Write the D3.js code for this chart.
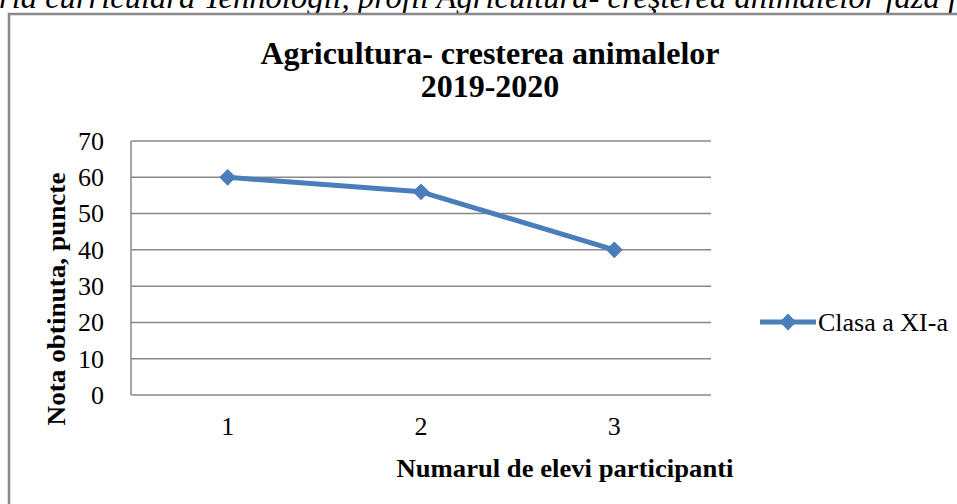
<!DOCTYPE html>
<html><head><meta charset="utf-8">
<script src="https://cdn.jsdelivr.net/npm/d3@7/dist/d3.min.js"></script>
<style>html,body{margin:0;padding:0;background:#fff;overflow:hidden}</style>
</head><body>
<svg id="c" width="957" height="504"></svg>
<script>
const categories = ["1", "2", "3"];
const values = [60, 56, 40];
const seriesName = "Clasa a XI-a";
const yTicks = [0, 10, 20, 30, 40, 50, 60, 70];
const titleLines = ["Agricultura- cresterea animalelor", "2019-2020"];
const xTitle = "Numarul de elevi participanti";
const yTitle = "Nota obtinuta, puncte";
const topText = "ria curriculară Tehnologii, profil Agricultură- creşterea animalelor faza f";

const svg = d3.select("#c");
const serif = "'Liberation Serif','Times New Roman',serif";
const blue = "#4A7EBB";
const grid = "#888888";

// cut-off caption text above the chart
svg.append("text").attr("x", -1).attr("y", 8)
  .attr("font-family", serif).attr("font-style", "italic").attr("font-size", 31)
  .attr("textLength", 958).attr("lengthAdjust", "spacingAndGlyphs")
  .attr("fill", "#000").text(topText);

// chart area border
svg.append("rect").attr("x", 9).attr("y", 14).attr("width", 1000).attr("height", 600)
  .attr("fill", "none").attr("stroke", grid).attr("stroke-width", 2.5);

const L = 131, R = 711, T = 141, B = 395;
const x = d3.scaleBand().domain(categories).range([L, R]);
const y = d3.scaleLinear().domain([0, 70]).range([B, T]);

// gridlines
svg.append("g").selectAll("line").data(yTicks).join("line")
  .attr("x1", L).attr("x2", R).attr("y1", d => y(d)).attr("y2", d => y(d))
  .attr("stroke", grid).attr("stroke-width", 1.5);
// left axis line
svg.append("line").attr("x1", L).attr("x2", L).attr("y1", T).attr("y2", B)
  .attr("stroke", grid).attr("stroke-width", 1.5);

// y tick labels
const yAxis = d3.axisLeft(y).tickValues(yTicks).tickSize(0).tickPadding(27);
const ya = svg.append("g").attr("transform", `translate(${L},0)`).call(yAxis);
ya.select(".domain").remove();
ya.selectAll("text").attr("font-family", serif).attr("font-size", 26).attr("fill", "#000");

// x tick labels
const xAxis = d3.axisBottom(x).tickSize(0).tickPadding(22);
const xa = svg.append("g").attr("transform", `translate(0,${B})`).call(xAxis);
xa.select(".domain").remove();
xa.selectAll("text").attr("font-family", serif).attr("font-size", 26).attr("fill", "#000");

// line
const line = d3.line().x((d, i) => x(categories[i]) + x.bandwidth() / 2).y(d => y(d));
svg.append("path").datum(values).attr("d", line)
  .attr("fill", "none").attr("stroke", blue).attr("stroke-width", 5).attr("stroke-linejoin", "round");
const diamond = d3.symbol().type(d3.symbolDiamond2).size(180);
svg.append("g").selectAll("path").data(values).join("path")
  .attr("transform", (d, i) => `translate(${x(categories[i]) + x.bandwidth() / 2},${y(d)})`)
  .attr("d", diamond).attr("fill", blue);

// title
svg.append("text").attr("x", 490).attr("y", 64).attr("text-anchor", "middle")
  .attr("font-family", serif).attr("font-weight", "bold").attr("font-size", 32)
  .selectAll("tspan").data(titleLines).join("tspan")
  .attr("x", 490).attr("dy", (d, i) => i === 0 ? 0 : 33).text(d => d);

// axis titles
svg.append("text").attr("x", 565).attr("y", 477).attr("text-anchor", "middle")
  .attr("font-family", serif).attr("font-weight", "bold").attr("font-size", 26)
  .attr("textLength", 337).attr("lengthAdjust", "spacingAndGlyphs").text(xTitle);
svg.append("text").attr("transform", "translate(65,299) rotate(-90)").attr("text-anchor", "middle")
  .attr("font-family", serif).attr("font-weight", "bold").attr("font-size", 26)
  .attr("textLength", 253).attr("lengthAdjust", "spacingAndGlyphs").text(yTitle);

// legend
const lg = svg.append("g").attr("transform", "translate(760,322)");
lg.append("line").attr("x1", 0).attr("x2", 56).attr("y1", 0).attr("y2", 0)
  .attr("stroke", blue).attr("stroke-width", 5);
lg.append("path").attr("transform", "translate(28,0)").attr("d", diamond).attr("fill", blue);
lg.append("text").attr("x", 58).attr("y", 9).attr("font-family", serif).attr("font-size", 26)
  .text(seriesName);
</script>
</body></html>
